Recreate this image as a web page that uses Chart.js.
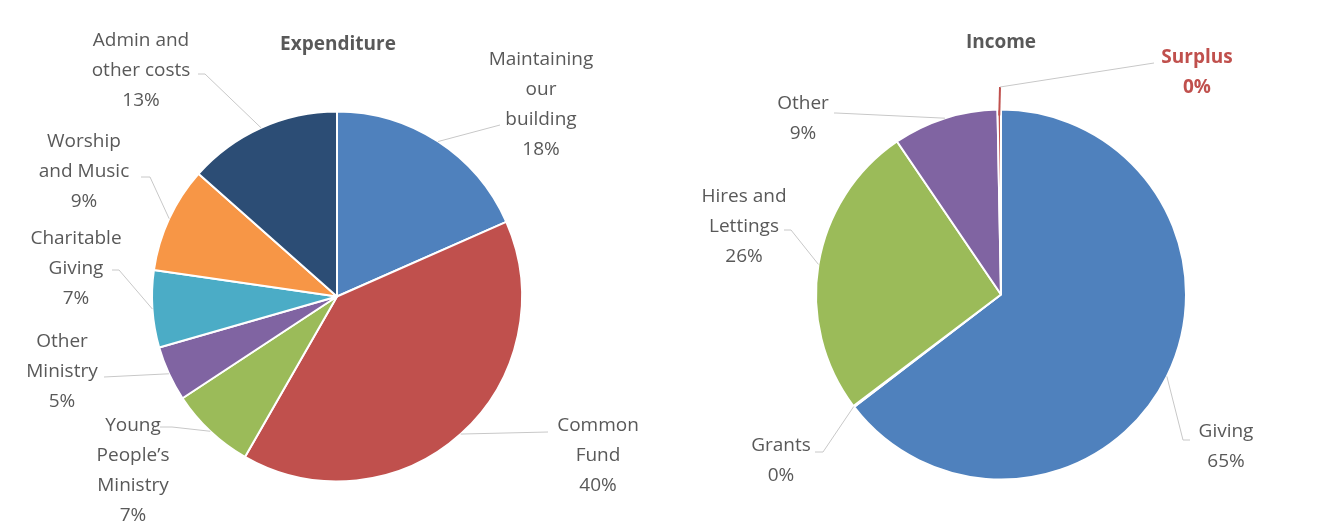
<!DOCTYPE html>
<html>
<head>
<meta charset="utf-8">
<script src="https://cdn.jsdelivr.net/npm/chart.js@4.4.1/dist/chart.umd.min.js"></script>
<style>
    body { margin: 0; background: #fff; }
    #wrap { position: relative; width: 1319px; height: 522px; }
    canvas { position: absolute; top: 0; }
    #expenditureChart { left: 0; }
    #incomeChart { left: 660px; }
</style>
</head>
<body>
<div id="wrap">
    <canvas id="expenditureChart" width="660" height="522"></canvas>
    <canvas id="incomeChart" width="659" height="522"></canvas>
</div>
<script>
// expenditure, percent of total
var expenditureLabels = [
    ["Maintaining", "our", "building"],
    ["Common", "Fund"],
    ["Young", "People\u2019s", "Ministry"],
    ["Other", "Ministry"],
    ["Charitable", "Giving"],
    ["Worship", "and Music"],
    ["Admin and", "other costs"]
];
var expenditureValues = [18.3, 39.7, 7.4, 4.8, 6.7, 9.2, 13.4];
var expenditureColors = ["#4F81BD", "#C0504D", "#9BBB59", "#8064A2", "#4BACC6", "#F79646", "#2C4D75"];

// income, percent of total
var incomeLabels = [
    ["Giving"],
    ["Grants"],
    ["Hires and", "Lettings"],
    ["Other"],
    ["Surplus"]
];
var incomeValues = [64.6, 0.1, 25.8, 9.2, 0.3];
var incomeColors = ["#4F81BD", "#C0504D", "#9BBB59", "#8064A2", "#C0504D"];

// label placement: text centre x, first line y, leader elbow and end
var expenditureLabelPos = [
    {x: 541, y: 60, elbow: [500, 125], end: [500, 125]},
    {x: 598, y: 426, elbow: [548, 432], end: [548, 432]},
    {x: 133, y: 426, elbow: [172, 427], end: [160, 427]},
    {x: 62, y: 342, elbow: [104, 377], end: [104, 377]},
    {x: 76, y: 239, elbow: [119, 270], end: [112, 270]},
    {x: 84, y: 142, elbow: [150, 177], end: [141, 177]},
    {x: 141, y: 41, elbow: [205, 74], end: [198, 74]}
];
var incomeLabelPos = [
    {x: 566, y: 432, elbow: [523, 440], end: [530, 440]},
    {x: 121, y: 446, elbow: [163, 452], end: [155, 452]},
    {x: 84, y: 197, elbow: [131, 230], end: [124, 230]},
    {x: 143, y: 104, elbow: [176, 113], end: [174, 113]},
    {x: 537, y: 58, elbow: [340, 87], end: [494, 63], bold: true, color: "#C0504D", leadColor: "#C0504D", leadWidth: 2}
];

var textColor = "#595959";
var leaderColor = "#C8C8C8";
var fontFamily = '"Open Sans", "Noto Sans", sans-serif';

var outsideLabels = {
    id: "outsideLabels",
    afterDatasetsDraw: function (chart, args, opts) {
        var ctx = chart.ctx;
        var meta = chart.getDatasetMeta(0);
        var values = chart.data.datasets[0].data;
        var total = values.reduce(function (a, b) { return a + b; }, 0);
        ctx.save();
        meta.data.forEach(function (arc, i) {
            var pos = opts.positions[i];
            var p = arc.getProps(["x", "y", "startAngle", "endAngle", "outerRadius"], true);
            var mid = (p.startAngle + p.endAngle) / 2;
            var ax = p.x + Math.cos(mid) * p.outerRadius;
            var ay = p.y + Math.sin(mid) * p.outerRadius;

            // leader line: slice edge -> elbow -> label
            ctx.lineWidth = pos.leadWidth || 1;
            ctx.strokeStyle = pos.leadColor || leaderColor;
            ctx.beginPath();
            ctx.moveTo(ax, ay + (pos.leadColor ? 6 : 0));
            ctx.lineTo(pos.elbow[0], pos.elbow[1]);
            ctx.stroke();
            ctx.lineWidth = 1;
            ctx.strokeStyle = leaderColor;
            ctx.beginPath();
            ctx.moveTo(pos.elbow[0], pos.elbow[1]);
            ctx.lineTo(pos.end[0], pos.end[1]);
            ctx.stroke();

            var lines = chart.data.labels[i].concat([Math.round(values[i] / total * 100) + "%"]);
            ctx.font = (pos.bold ? "bold " : "") + "19px " + fontFamily;
            ctx.fillStyle = pos.color || textColor;
            ctx.textAlign = "center";
            ctx.textBaseline = "middle";
            lines.forEach(function (line, k) {
                ctx.fillText(line, pos.x, pos.y + k * 30);
            });
        });

        ctx.font = "bold 19px " + fontFamily;
        ctx.fillStyle = textColor;
        ctx.textAlign = "center";
        ctx.textBaseline = "middle";
        ctx.fillText(opts.title, opts.titleX, opts.titleY);
        ctx.restore();
    }
};

function makePie(canvasId, labels, values, colors, positions, title, titleX, titleY, padding) {
    return new Chart(document.getElementById(canvasId), {
        type: "pie",
        data: {
            labels: labels,
            datasets: [{
                data: values,
                backgroundColor: colors,
                borderColor: "#ffffff",
                borderWidth: 2,
                radius: 185
            }]
        },
        options: {
            responsive: false,
            animation: false,
            devicePixelRatio: 1,
            events: [],
            layout: { padding: padding },
            plugins: {
                legend: { display: false },
                title: { display: false },
                tooltip: { enabled: false },
                outsideLabels: { positions: positions, title: title, titleX: titleX, titleY: titleY }
            }
        },
        plugins: [outsideLabels]
    });
}

makePie("expenditureChart", expenditureLabels, expenditureValues, expenditureColors,
    expenditureLabelPos, "Expenditure", 338, 45, {left: 14, right: 0, top: 71, bottom: 0});
makePie("incomeChart", incomeLabels, incomeValues, incomeColors,
    incomeLabelPos, "Income", 341, 43, {left: 23, right: 0, top: 67, bottom: 0});
</script>
</body>
</html>
